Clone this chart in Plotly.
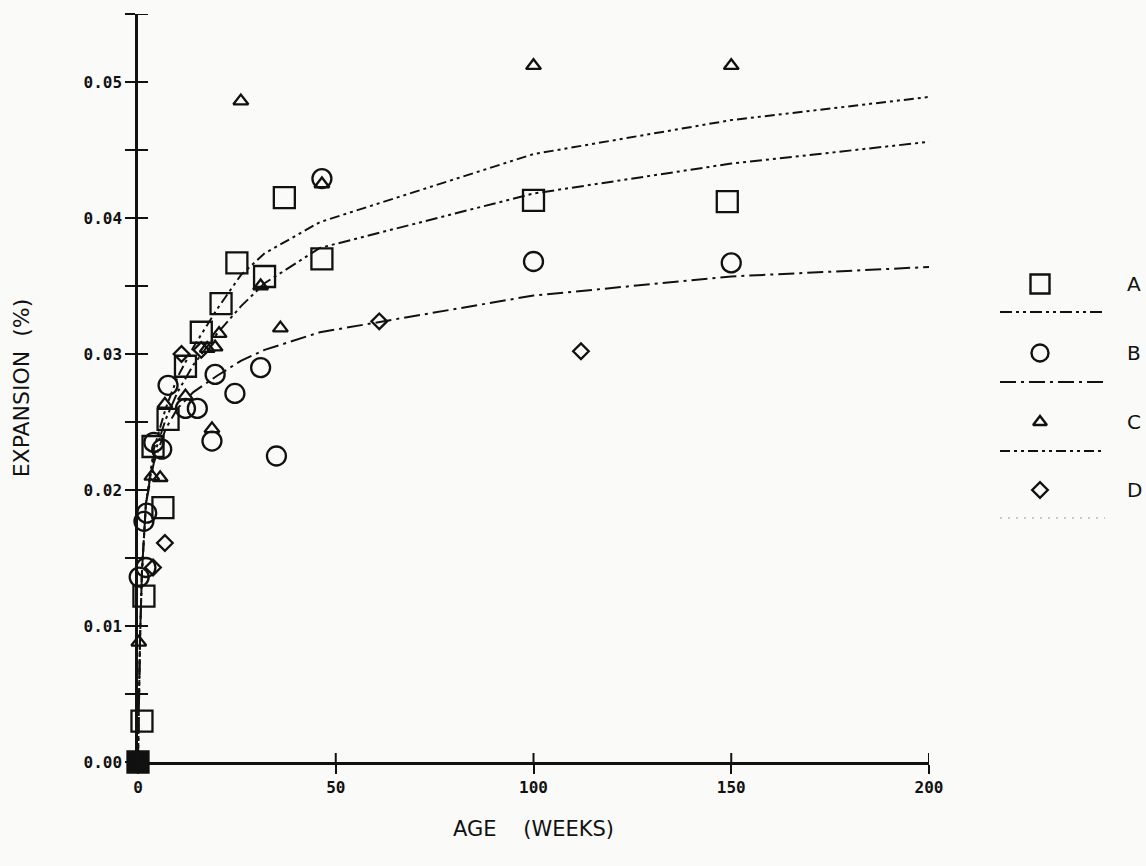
import plotly.graph_objects as go

# ---- measured expansion data (age in weeks, expansion in %) ----
A_t = [0, 1, 1.5, 3.8, 6.3, 7.6, 12, 16, 21, 25, 32, 37, 46.5, 100, 149]
A_v = [0, 0.0030, 0.0122, 0.0232, 0.0187, 0.0252, 0.0291, 0.0316, 0.0337,
       0.0367, 0.0357, 0.0415, 0.0370, 0.0413, 0.0412]

B_t = [0, 0.3, 2, 1.5, 2.2, 4, 6, 7.6, 12, 15, 19.5, 18.7, 24.5, 31, 35, 46.5, 100, 150]
B_v = [0, 0.0136, 0.0143, 0.0177, 0.0183, 0.0235, 0.0230, 0.0277, 0.0260,
       0.0260, 0.0285, 0.0236, 0.0271, 0.0290, 0.0225, 0.0429, 0.0368, 0.0367]

C_t = [0, 0.2, 3.5, 5.6, 6.8, 12, 17.5, 19.5, 20.5, 18.7, 26, 31, 36, 46.5, 100, 150]
C_v = [0, 0.0088, 0.0210, 0.0209, 0.0263, 0.0269, 0.0304, 0.0305, 0.0315,
       0.0245, 0.0486, 0.0350, 0.0319, 0.0425, 0.0512, 0.0512]

D_t = [0, 3.8, 6.8, 11, 16, 61, 112]
D_v = [0, 0.0143, 0.0161, 0.0300, 0.0303, 0.0324, 0.0302]

# ---- fitted curves ----
fit_t = [0, 0.5, 1, 2, 4, 7, 10, 14, 20, 26, 32, 46, 100, 150, 200]
fit_A = [0, 0.009, 0.014, 0.019, 0.0225, 0.0252, 0.0272, 0.0292, 0.0315,
         0.0335, 0.0352, 0.0378, 0.0418, 0.0440, 0.0456]
fit_B = [0, 0.009, 0.014, 0.019, 0.0220, 0.0245, 0.0260, 0.0272, 0.0284,
         0.0295, 0.0303, 0.0316, 0.0343, 0.0357, 0.0364]
fit_C = [0, 0.009, 0.014, 0.019, 0.0230, 0.0260, 0.0283, 0.0305, 0.0333,
         0.0358, 0.0374, 0.0397, 0.0447, 0.0472, 0.0489]

y_ticks = [0, 0.01, 0.02, 0.03, 0.04, 0.05]
y_minor = [0.005, 0.015, 0.025, 0.035, 0.045, 0.055]
y_labels = ["0.00", "0.01", "0.02", "0.03", "0.04", "0.05"]
x_ticks = [0, 50, 100, 150, 200]
x_labels = ["0", "50", "100", "150", "200"]

series_names = ["A", "B", "C", "D"]
series_symbols = ["square", "circle", "triangle-up", "diamond"]
series_sizes = [21, 19, 13, 12]
fit_dashes = ["12px,4px,3px,4px,3px,4px", "16px,5px,3px,5px",
              "10px,4px,3px,4px,3px,4px", "2px,6px"]

INK = "#111111"
BG = "#fafaf8"

W, H = 1146, 866
ML, MT, MB = 138, 14, 104
PLOT_W = 791          # pixel width of the 0..200 week axis
PLOT_H = H - MT - MB

fig = go.Figure()

# fitted curves
for fv, dash in [(fit_A, fit_dashes[0]), (fit_B, fit_dashes[1]), (fit_C, fit_dashes[2])]:
    fig.add_trace(go.Scatter(x=fit_t, y=fv, mode="lines",
                             line=dict(color=INK, width=2, dash=dash),
                             hoverinfo="skip", showlegend=False))

# data markers; the common origin point is drawn solid
for t, v, sym, sz, name in zip([A_t, B_t, C_t, D_t], [A_v, B_v, C_v, D_v],
                               series_symbols, series_sizes, series_names):
    fills = [INK if (tt == 0 and vv == 0) else "rgba(0,0,0,0)" for tt, vv in zip(t, v)]
    fig.add_trace(go.Scatter(x=t, y=v, mode="markers", name=name, cliponaxis=False,
                             marker=dict(symbol=sym, size=sz, color=fills,
                                         line=dict(color=INK, width=2.3)),
                             showlegend=False))

# inner halves of the crossing tick marks
x_dom_end = PLOT_W / (W - ML)
for xt in x_ticks[1:]:
    fig.add_shape(type="line", xref="x", yref="paper", x0=xt, x1=xt,
                  y0=0, y1=9 / PLOT_H, line=dict(color=INK, width=2))
for yt in y_ticks[1:] + y_minor:
    fig.add_shape(type="line", xref="paper", yref="y", x0=0, x1=10 / (W - ML),
                  y0=yt, y1=yt, line=dict(color=INK, width=2))

# ---- legend panel on the right (own hidden axes, pixel-like units) ----
leg_rows = [284, 353, 422, 490]
leg_line_rows = [312, 382, 451, 518]
leg_sym_x = 1040
leg_txt_x = 1134
for i in range(4):
    fig.add_trace(go.Scatter(x=[leg_sym_x], y=[leg_rows[i]], mode="markers",
                             marker=dict(symbol=series_symbols[i],
                                         size=[19, 17, 12, 12][i],
                                         color="rgba(0,0,0,0)",
                                         line=dict(color=INK, width=2.4)),
                             xaxis="x3", yaxis="y3", showlegend=False, hoverinfo="skip"))
    fig.add_trace(go.Scatter(x=[1000, 1105], y=[leg_line_rows[i]] * 2, mode="lines",
                             line=dict(color=INK if i < 3 else "#9a9a9a",
                                       width=2 if i < 3 else 1, dash=fit_dashes[i]),
                             xaxis="x3", yaxis="y3", showlegend=False, hoverinfo="skip"))
    fig.add_annotation(x=leg_txt_x, y=leg_rows[i], xref="x3", yref="y3",
                       text=series_names[i], showarrow=False,
                       font=dict(family="DejaVu Sans", size=20, color=INK))

tick_font = dict(family="DejaVu Sans Mono", size=16, color=INK, weight="bold")

fig.update_layout(
    width=W, height=H, autosize=False,
    margin=dict(l=ML, r=0, t=MT, b=MB, autoexpand=False),
    paper_bgcolor=BG, plot_bgcolor=BG,
    showlegend=False,
    xaxis=dict(domain=[0, x_dom_end], range=[0, 200], showgrid=False, zeroline=False,
               showline=True, linecolor=INK, linewidth=2.5,
               tickvals=x_ticks, ticktext=x_labels, ticks="outside", ticklen=9,
               tickwidth=2, tickcolor=INK, tickfont=tick_font,
               title=dict(text="AGE    (WEEKS)", standoff=26,
                          font=dict(family="DejaVu Sans", size=21, color=INK))),
    yaxis=dict(range=[0, 0.055], showgrid=False, zeroline=False,
               showline=True, linecolor=INK, linewidth=2.5,
               tickvals=y_ticks, ticktext=y_labels, ticks="outside", ticklen=10,
               tickwidth=2, tickcolor=INK, tickfont=tick_font,
               minor=dict(tickvals=y_minor, ticks="outside", ticklen=10,
                          tickwidth=2, tickcolor=INK),
               title=dict(text="EXPANSION  (%)", standoff=48,
                          font=dict(family="DejaVu Sans", size=22, color=INK))),
    xaxis3=dict(domain=[(990 - ML) / (W - ML), 1], range=[990, 1146], visible=False),
    yaxis3=dict(domain=[0, 1], range=[H - MB, MT], visible=False, anchor="x3"),
)

fig.write_html(
    "out.html",
    config={"responsive": False},
    default_width=f"{W}px", default_height=f"{H}px",
    post_script="document.body.style.margin='0';document.body.style.overflow='hidden';",
)
